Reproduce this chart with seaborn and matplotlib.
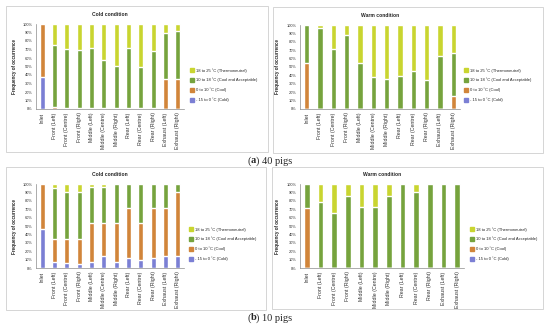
"""Frequency of occurrence of temperature bands along the trailer, 40 and 10 pigs."""

import matplotlib

matplotlib.use("Agg")
import matplotlib.pyplot as plt
import numpy as np
import pandas as pd
import seaborn as sns
from matplotlib.lines import Line2D
from matplotlib.patches import Rectangle

LOCATIONS = [
    "Inlet", "Front (Left)", "Front (Centre)", "Front (Right)",
    "Middle (Left)", "Middle (Centre)", "Middle (Right)",
    "Rear (Left)", "Rear (Centre)", "Rear (Right)",
    "Exhaust (Left)", "Exhaust (Right)",
]
BANDS = [
    "- 15 to 0 ˚C (Cold)",
    "0 to 10 ˚C (Cool)",
    "10 to 18 ˚C (Cool and Acceptable)",
    "18 to 25 ˚C (Thermoneutral)",
]
COLOURS = ["#7b7fd4", "#d1853a", "#76a33d", "#c9d530"]

# (a) 40 pigs, cold condition, % of time in each band
A_COLD_BAND1 = [38, 0, 0, 0, 0, 0, 0, 0, 0, 0, 0, 0]
A_COLD_BAND2 = [62, 2, 1, 1, 1, 1, 1, 1, 1, 1, 35, 35]
A_COLD_BAND3 = [0, 73, 70, 69, 71, 57, 50, 71, 49, 67, 54, 57]
A_COLD_BAND4 = [0, 25, 29, 30, 28, 42, 49, 28, 50, 32, 11, 8]

# (a) 40 pigs, warm condition
A_WARM_BAND1 = [0, 0, 0, 0, 0, 0, 0, 0, 0, 0, 0, 0]
A_WARM_BAND2 = [55, 0, 0, 0, 0, 0, 0, 0, 0, 0, 0, 16]
A_WARM_BAND3 = [45, 97, 71, 88, 55, 38, 36, 39, 45, 35, 63, 51]
A_WARM_BAND4 = [0, 3, 29, 12, 45, 62, 64, 61, 55, 65, 37, 33]

# (b) 10 pigs, cold condition
B_COLD_BAND1 = [47, 7, 6, 5, 7, 14, 7, 12, 9, 12, 14, 14]
B_COLD_BAND2 = [53, 27, 28, 29, 46, 39, 46, 60, 44, 60, 58, 77]
B_COLD_BAND3 = [0, 61, 57, 57, 44, 44, 47, 28, 47, 28, 28, 9]
B_COLD_BAND4 = [0, 5, 9, 9, 3, 3, 0, 0, 0, 0, 0, 0]

# (b) 10 pigs, warm condition
B_WARM_BAND1 = [0, 0, 0, 0, 0, 0, 0, 0, 0, 0, 0, 0]
B_WARM_BAND2 = [72, 0, 0, 0, 0, 0, 0, 0, 0, 0, 0, 0]
B_WARM_BAND3 = [28, 78, 65, 86, 73, 73, 86, 100, 91, 100, 100, 100]
B_WARM_BAND4 = [0, 22, 35, 14, 27, 27, 14, 0, 9, 0, 0, 0]

W, H = 550, 329


def fx(px):
    return px / W


def fy(py):
    return 1 - py / H


def draw_panel(fig, rect, title, layers, legend_xy, ylabel_x):
    left, top, width, height = rect
    ax = fig.add_axes([fx(left), fy(top + height), fx(width), height / H])
    frame = pd.DataFrame({"location": LOCATIONS})
    for band, values in zip(BANDS, layers):
        frame[band] = np.array(values, dtype=float) / 100
    stacked = frame[BANDS].cumsum(axis=1)
    # tallest stack first, lower layers painted over it
    for band, colour in reversed(list(zip(BANDS, COLOURS))):
        sns.barplot(x=frame["location"], y=stacked[band], color=colour,
                    saturation=1, width=0.4, errorbar=None, ax=ax)
    ax.set_xlim(-0.5, len(LOCATIONS) - 0.5)
    ax.set_ylim(0, 1)
    ax.set_yticks(np.linspace(0, 1, 11))
    ax.set_yticklabels([f"{v}%" for v in range(0, 101, 10)], fontsize=2.9)
    ax.set_xticks(range(len(LOCATIONS)))
    ax.set_xticklabels(LOCATIONS, rotation=90, fontsize=3.8)
    ax.set_xlabel("")
    ax.set_ylabel("Frequency of occurrence", fontsize=3.3, fontweight="bold")
    ax.yaxis.set_label_coords(ylabel_x, 0.5)
    ax.set_title(title, fontsize=3.6, fontweight="bold", pad=6)
    for side in ("top", "right"):
        ax.spines[side].set_visible(False)
    for side in ("left", "bottom"):
        ax.spines[side].set_color("#8c8c8c")
        ax.spines[side].set_linewidth(0.5)
    ax.tick_params(axis="both", length=1.2, width=0.4, pad=1.2, colors="#8c8c8c",
                   labelcolor="#333333")
    ax.tick_params(axis="x", length=0, pad=2.5)

    handles = [
        Line2D([], [], ls="", marker="s", markersize=2.2, color=c, label=b)
        for b, c in zip(BANDS[::-1], COLOURS[::-1])
    ]
    fig.legend(handles=handles, loc="center left", frameon=False,
               bbox_to_anchor=(fx(legend_xy[0]), fy(legend_xy[1])),
               fontsize=3.0, labelspacing=1.25, handletextpad=0.4,
               handlelength=0.7, borderpad=0, borderaxespad=0)
    return ax


def main() -> None:
    sns.set_theme(style="white")
    plt.rcParams["font.family"] = ["Liberation Sans", "DejaVu Sans"]
    fig = plt.figure(figsize=(W / 100, H / 100), dpi=100)
    fig.patch.set_facecolor("white")

    for x0, y0, x1, y1 in [(6, 6, 268, 152), (273, 7, 543, 153),
                           (6, 167, 266, 310), (272, 167, 543, 309)]:
        fig.patches.append(Rectangle((fx(x0), fy(y1)), fx(x1 - x0), (y1 - y0) / H,
                                     transform=fig.transFigure, fill=False,
                                     edgecolor="#cfcfcf", linewidth=0.6))

    draw_panel(fig, (36, 24, 148, 85), "Cold condition",
               [A_COLD_BAND1, A_COLD_BAND2, A_COLD_BAND3, A_COLD_BAND4],
               (191, 85), -0.13)
    draw_panel(fig, (300, 25, 160, 84), "Warm condition",
               [A_WARM_BAND1, A_WARM_BAND2, A_WARM_BAND3, A_WARM_BAND4],
               (465, 85), -0.125)
    draw_panel(fig, (36, 184, 148, 84), "Cold condition",
               [B_COLD_BAND1, B_COLD_BAND2, B_COLD_BAND3, B_COLD_BAND4],
               (190, 244), -0.13)
    draw_panel(fig, (300, 184, 164, 84), "Warm condition",
               [B_WARM_BAND1, B_WARM_BAND2, B_WARM_BAND3, B_WARM_BAND4],
               (471, 244), -0.12)

    serif = ["Liberation Serif", "DejaVu Serif"]
    for tag, rest, ypx in [("a", " 40 pigs", 161), ("b", " 10 pigs", 318)]:
        fig.text(fx(248), fy(ypx), "(", family=serif, fontsize=7.5, va="center")
        fig.text(fx(251), fy(ypx), tag, family=serif, fontsize=7.5,
                 fontweight="bold", va="center")
        fig.text(fx(256), fy(ypx), ")" + rest, family=serif, fontsize=7.5, va="center")

    fig.savefig("out.png", dpi=100)


if __name__ == "__main__":
    main()
